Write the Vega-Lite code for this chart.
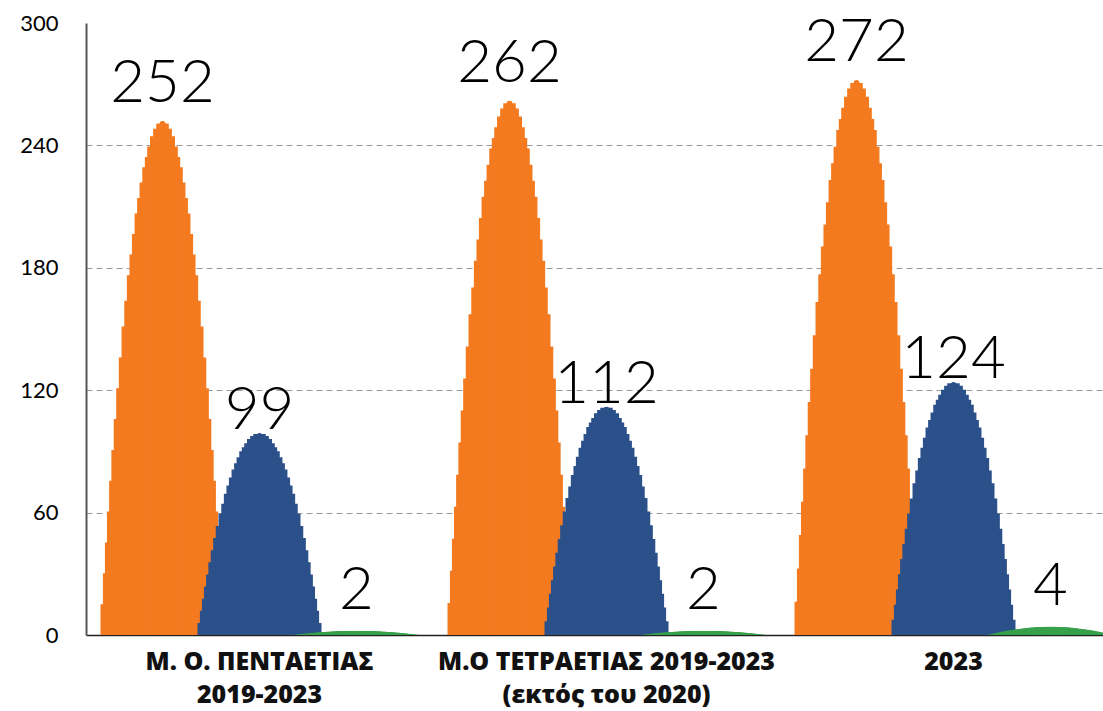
{
"$schema": "https://vega.github.io/schema/vega-lite/v6.json",
"autosize": {"type": "none"},
"width": 1017, "height": 612,
"padding": {"left": 86, "top": 23, "right": 0, "bottom": 76},
"background": "white",
"config": {"view": {"stroke": null}},
"data": {"values": [
{"group": "Μ. Ο. ΠΕΝΤΑΕΤΙΑΣ|2019-2023", "series": "s1", "value": 252},
{"group": "Μ. Ο. ΠΕΝΤΑΕΤΙΑΣ|2019-2023", "series": "s2", "value": 99},
{"group": "Μ. Ο. ΠΕΝΤΑΕΤΙΑΣ|2019-2023", "series": "s3", "value": 2},
{"group": "Μ.Ο ΤΕΤΡΑΕΤΙΑΣ 2019-2023|(εκτός του 2020)", "series": "s1", "value": 262},
{"group": "Μ.Ο ΤΕΤΡΑΕΤΙΑΣ 2019-2023|(εκτός του 2020)", "series": "s2", "value": 112},
{"group": "Μ.Ο ΤΕΤΡΑΕΤΙΑΣ 2019-2023|(εκτός του 2020)", "series": "s3", "value": 2},
{"group": "2023", "series": "s1", "value": 272},
{"group": "2023", "series": "s2", "value": 124},
{"group": "2023", "series": "s3", "value": 4}
]},
"encoding": {
"x": {"field": "group", "type": "nominal", "title": null,
 "scale": {"domain": ["Μ. Ο. ΠΕΝΤΑΕΤΙΑΣ|2019-2023", "Μ.Ο ΤΕΤΡΑΕΤΙΑΣ 2019-2023|(εκτός του 2020)", "2023"], "range": [0, 1041], "paddingInner": 0, "paddingOuter": 0},
 "axis": {"labelExpr": "split(datum.value, '|')", "labelAngle": 0, "ticks": false, "labelPadding": 14, "labelLimit": 0, "labelFont": "Open Sans", "labelFontWeight": 800, "labelFontSize": 25, "labelLineHeight": 33, "labelColor": "#111", "domainColor": "#222", "domainWidth": 1.5, "grid": false, "labelBaseline": "top"}},
"xOffset": {"field": "series", "type": "nominal", "scale": {"domain": ["s1", "s2", "s3"], "paddingInner": 0, "paddingOuter": 0.289}}
},
"resolve": {"scale": {"y": "independent"}},
"layer": [
{"transform": [{"filter": "datum.series === 's1'"}], "mark": {"type": "bar", "color": "#F47A20", "width": 124}, "encoding": {"y": {"field": "value", "type": "quantitative", "scale": {"domain": [0, 5000], "nice": false}, "axis": null}}},
{"transform": [{"filter": "datum.series === 's1'"}], "mark": {"type": "bar", "color": "#F47A20", "width": 119.2}, "encoding": {"y": {"field": "value", "type": "quantitative", "scale": {"domain": [0, 2500], "nice": false}, "axis": null}}},
{"transform": [{"filter": "datum.series === 's1'"}], "mark": {"type": "bar", "color": "#F47A20", "width": 115.2}, "encoding": {"y": {"field": "value", "type": "quantitative", "scale": {"domain": [0, 1666.667], "nice": false}, "axis": null}}},
{"transform": [{"filter": "datum.series === 's1'"}], "mark": {"type": "bar", "color": "#F47A20", "width": 111.1}, "encoding": {"y": {"field": "value", "type": "quantitative", "scale": {"domain": [0, 1250], "nice": false}, "axis": null}}},
{"transform": [{"filter": "datum.series === 's1'"}], "mark": {"type": "bar", "color": "#F47A20", "width": 106.8}, "encoding": {"y": {"field": "value", "type": "quantitative", "scale": {"domain": [0, 1000], "nice": false}, "axis": null}}},
{"transform": [{"filter": "datum.series === 's1'"}], "mark": {"type": "bar", "color": "#F47A20", "width": 102.3}, "encoding": {"y": {"field": "value", "type": "quantitative", "scale": {"domain": [0, 833.333], "nice": false}, "axis": null}}},
{"transform": [{"filter": "datum.series === 's1'"}], "mark": {"type": "bar", "color": "#F47A20", "width": 97.6}, "encoding": {"y": {"field": "value", "type": "quantitative", "scale": {"domain": [0, 714.286], "nice": false}, "axis": null}}},
{"transform": [{"filter": "datum.series === 's1'"}], "mark": {"type": "bar", "color": "#F47A20", "width": 92.7}, "encoding": {"y": {"field": "value", "type": "quantitative", "scale": {"domain": [0, 625], "nice": false}, "axis": null}}},
{"transform": [{"filter": "datum.series === 's1'"}], "mark": {"type": "bar", "color": "#F47A20", "width": 87.5}, "encoding": {"y": {"field": "value", "type": "quantitative", "scale": {"domain": [0, 555.556], "nice": false}, "axis": null}}},
{"transform": [{"filter": "datum.series === 's1'"}], "mark": {"type": "bar", "color": "#F47A20", "width": 82}, "encoding": {"y": {"field": "value", "type": "quantitative", "scale": {"domain": [0, 500], "nice": false}, "axis": null}}},
{"transform": [{"filter": "datum.series === 's1'"}], "mark": {"type": "bar", "color": "#F47A20", "width": 76.5}, "encoding": {"y": {"field": "value", "type": "quantitative", "scale": {"domain": [0, 461.538], "nice": false}, "axis": null}}},
{"transform": [{"filter": "datum.series === 's1'"}], "mark": {"type": "bar", "color": "#F47A20", "width": 71.3}, "encoding": {"y": {"field": "value", "type": "quantitative", "scale": {"domain": [0, 428.571], "nice": false}, "axis": null}}},
{"transform": [{"filter": "datum.series === 's1'"}], "mark": {"type": "bar", "color": "#F47A20", "width": 66.1}, "encoding": {"y": {"field": "value", "type": "quantitative", "scale": {"domain": [0, 405.405], "nice": false}, "axis": null}}},
{"transform": [{"filter": "datum.series === 's1'"}], "mark": {"type": "bar", "color": "#F47A20", "width": 61.2}, "encoding": {"y": {"field": "value", "type": "quantitative", "scale": {"domain": [0, 384.615], "nice": false}, "axis": null}}},
{"transform": [{"filter": "datum.series === 's1'"}], "mark": {"type": "bar", "color": "#F47A20", "width": 55.9}, "encoding": {"y": {"field": "value", "type": "quantitative", "scale": {"domain": [0, 365.854], "nice": false}, "axis": null}}},
{"transform": [{"filter": "datum.series === 's1'"}], "mark": {"type": "bar", "color": "#F47A20", "width": 50.8}, "encoding": {"y": {"field": "value", "type": "quantitative", "scale": {"domain": [0, 352.941], "nice": false}, "axis": null}}},
{"transform": [{"filter": "datum.series === 's1'"}], "mark": {"type": "bar", "color": "#F47A20", "width": 45.9}, "encoding": {"y": {"field": "value", "type": "quantitative", "scale": {"domain": [0, 340.909], "nice": false}, "axis": null}}},
{"transform": [{"filter": "datum.series === 's1'"}], "mark": {"type": "bar", "color": "#F47A20", "width": 40.5}, "encoding": {"y": {"field": "value", "type": "quantitative", "scale": {"domain": [0, 329.67], "nice": false}, "axis": null}}},
{"transform": [{"filter": "datum.series === 's1'"}], "mark": {"type": "bar", "color": "#F47A20", "width": 35.4}, "encoding": {"y": {"field": "value", "type": "quantitative", "scale": {"domain": [0, 322.581], "nice": false}, "axis": null}}},
{"transform": [{"filter": "datum.series === 's1'"}], "mark": {"type": "bar", "color": "#F47A20", "width": 30.6}, "encoding": {"y": {"field": "value", "type": "quantitative", "scale": {"domain": [0, 315.789], "nice": false}, "axis": null}}},
{"transform": [{"filter": "datum.series === 's1'"}], "mark": {"type": "bar", "color": "#F47A20", "width": 25}, "encoding": {"y": {"field": "value", "type": "quantitative", "scale": {"domain": [0, 309.278], "nice": false}, "axis": null}}},
{"transform": [{"filter": "datum.series === 's1'"}], "mark": {"type": "bar", "color": "#F47A20", "width": 18.75}, "encoding": {"y": {"field": "value", "type": "quantitative", "scale": {"domain": [0, 304.569], "nice": false}, "axis": null}}},
{"transform": [{"filter": "datum.series === 's1'"}], "mark": {"type": "bar", "color": "#F47A20", "width": 12.5}, "encoding": {"y": {"field": "value", "type": "quantitative", "scale": {"domain": [0, 301.508], "nice": false}, "axis": null}}},
{"transform": [{"filter": "datum.series === 's1'"}], "mark": {"type": "bar", "color": "#F47A20", "width": 6.25, "cornerRadiusTopLeft": 3, "cornerRadiusTopRight": 3}, "encoding": {"y": {"field": "value", "type": "quantitative", "scale": {"domain": [0, 300], "nice": false}, "axis": null}}},

{"transform": [{"filter": "datum.series === 's2'"}], "mark": {"type": "bar", "color": "#2B508A", "width": 124}, "encoding": {"y": {"field": "value", "type": "quantitative", "scale": {"domain": [0, 5000], "nice": false}, "axis": null}}},
{"transform": [{"filter": "datum.series === 's2'"}], "mark": {"type": "bar", "color": "#2B508A", "width": 119.2}, "encoding": {"y": {"field": "value", "type": "quantitative", "scale": {"domain": [0, 2500], "nice": false}, "axis": null}}},
{"transform": [{"filter": "datum.series === 's2'"}], "mark": {"type": "bar", "color": "#2B508A", "width": 115.2}, "encoding": {"y": {"field": "value", "type": "quantitative", "scale": {"domain": [0, 1666.667], "nice": false}, "axis": null}}},
{"transform": [{"filter": "datum.series === 's2'"}], "mark": {"type": "bar", "color": "#2B508A", "width": 111.1}, "encoding": {"y": {"field": "value", "type": "quantitative", "scale": {"domain": [0, 1250], "nice": false}, "axis": null}}},
{"transform": [{"filter": "datum.series === 's2'"}], "mark": {"type": "bar", "color": "#2B508A", "width": 106.8}, "encoding": {"y": {"field": "value", "type": "quantitative", "scale": {"domain": [0, 1000], "nice": false}, "axis": null}}},
{"transform": [{"filter": "datum.series === 's2'"}], "mark": {"type": "bar", "color": "#2B508A", "width": 102.3}, "encoding": {"y": {"field": "value", "type": "quantitative", "scale": {"domain": [0, 833.333], "nice": false}, "axis": null}}},
{"transform": [{"filter": "datum.series === 's2'"}], "mark": {"type": "bar", "color": "#2B508A", "width": 97.6}, "encoding": {"y": {"field": "value", "type": "quantitative", "scale": {"domain": [0, 714.286], "nice": false}, "axis": null}}},
{"transform": [{"filter": "datum.series === 's2'"}], "mark": {"type": "bar", "color": "#2B508A", "width": 92.7}, "encoding": {"y": {"field": "value", "type": "quantitative", "scale": {"domain": [0, 625], "nice": false}, "axis": null}}},
{"transform": [{"filter": "datum.series === 's2'"}], "mark": {"type": "bar", "color": "#2B508A", "width": 87.5}, "encoding": {"y": {"field": "value", "type": "quantitative", "scale": {"domain": [0, 555.556], "nice": false}, "axis": null}}},
{"transform": [{"filter": "datum.series === 's2'"}], "mark": {"type": "bar", "color": "#2B508A", "width": 82}, "encoding": {"y": {"field": "value", "type": "quantitative", "scale": {"domain": [0, 500], "nice": false}, "axis": null}}},
{"transform": [{"filter": "datum.series === 's2'"}], "mark": {"type": "bar", "color": "#2B508A", "width": 76.5}, "encoding": {"y": {"field": "value", "type": "quantitative", "scale": {"domain": [0, 461.538], "nice": false}, "axis": null}}},
{"transform": [{"filter": "datum.series === 's2'"}], "mark": {"type": "bar", "color": "#2B508A", "width": 71.3}, "encoding": {"y": {"field": "value", "type": "quantitative", "scale": {"domain": [0, 428.571], "nice": false}, "axis": null}}},
{"transform": [{"filter": "datum.series === 's2'"}], "mark": {"type": "bar", "color": "#2B508A", "width": 66.1}, "encoding": {"y": {"field": "value", "type": "quantitative", "scale": {"domain": [0, 405.405], "nice": false}, "axis": null}}},
{"transform": [{"filter": "datum.series === 's2'"}], "mark": {"type": "bar", "color": "#2B508A", "width": 61.2}, "encoding": {"y": {"field": "value", "type": "quantitative", "scale": {"domain": [0, 384.615], "nice": false}, "axis": null}}},
{"transform": [{"filter": "datum.series === 's2'"}], "mark": {"type": "bar", "color": "#2B508A", "width": 55.9}, "encoding": {"y": {"field": "value", "type": "quantitative", "scale": {"domain": [0, 365.854], "nice": false}, "axis": null}}},
{"transform": [{"filter": "datum.series === 's2'"}], "mark": {"type": "bar", "color": "#2B508A", "width": 50.8}, "encoding": {"y": {"field": "value", "type": "quantitative", "scale": {"domain": [0, 352.941], "nice": false}, "axis": null}}},
{"transform": [{"filter": "datum.series === 's2'"}], "mark": {"type": "bar", "color": "#2B508A", "width": 45.9}, "encoding": {"y": {"field": "value", "type": "quantitative", "scale": {"domain": [0, 340.909], "nice": false}, "axis": null}}},
{"transform": [{"filter": "datum.series === 's2'"}], "mark": {"type": "bar", "color": "#2B508A", "width": 40.5}, "encoding": {"y": {"field": "value", "type": "quantitative", "scale": {"domain": [0, 329.67], "nice": false}, "axis": null}}},
{"transform": [{"filter": "datum.series === 's2'"}], "mark": {"type": "bar", "color": "#2B508A", "width": 35.4}, "encoding": {"y": {"field": "value", "type": "quantitative", "scale": {"domain": [0, 322.581], "nice": false}, "axis": null}}},
{"transform": [{"filter": "datum.series === 's2'"}], "mark": {"type": "bar", "color": "#2B508A", "width": 30.6}, "encoding": {"y": {"field": "value", "type": "quantitative", "scale": {"domain": [0, 315.789], "nice": false}, "axis": null}}},
{"transform": [{"filter": "datum.series === 's2'"}], "mark": {"type": "bar", "color": "#2B508A", "width": 25}, "encoding": {"y": {"field": "value", "type": "quantitative", "scale": {"domain": [0, 309.278], "nice": false}, "axis": null}}},
{"transform": [{"filter": "datum.series === 's2'"}], "mark": {"type": "bar", "color": "#2B508A", "width": 18.75}, "encoding": {"y": {"field": "value", "type": "quantitative", "scale": {"domain": [0, 304.569], "nice": false}, "axis": null}}},
{"transform": [{"filter": "datum.series === 's2'"}], "mark": {"type": "bar", "color": "#2B508A", "width": 12.5}, "encoding": {"y": {"field": "value", "type": "quantitative", "scale": {"domain": [0, 301.508], "nice": false}, "axis": null}}},
{"transform": [{"filter": "datum.series === 's2'"}], "mark": {"type": "bar", "color": "#2B508A", "width": 6.25, "cornerRadiusTopLeft": 3, "cornerRadiusTopRight": 3}, "encoding": {"y": {"field": "value", "type": "quantitative", "scale": {"domain": [0, 300], "nice": false}, "axis": null}}},

{"transform": [{"filter": "datum.series === 's3'"}], "mark": {"type": "bar", "color": "#36A04A", "width": 124}, "encoding": {"y": {"field": "value", "type": "quantitative", "scale": {"domain": [0, 5000], "nice": false}, "axis": null}}},
{"transform": [{"filter": "datum.series === 's3'"}], "mark": {"type": "bar", "color": "#36A04A", "width": 119.2}, "encoding": {"y": {"field": "value", "type": "quantitative", "scale": {"domain": [0, 2500], "nice": false}, "axis": null}}},
{"transform": [{"filter": "datum.series === 's3'"}], "mark": {"type": "bar", "color": "#36A04A", "width": 115.2}, "encoding": {"y": {"field": "value", "type": "quantitative", "scale": {"domain": [0, 1666.667], "nice": false}, "axis": null}}},
{"transform": [{"filter": "datum.series === 's3'"}], "mark": {"type": "bar", "color": "#36A04A", "width": 111.1}, "encoding": {"y": {"field": "value", "type": "quantitative", "scale": {"domain": [0, 1250], "nice": false}, "axis": null}}},
{"transform": [{"filter": "datum.series === 's3'"}], "mark": {"type": "bar", "color": "#36A04A", "width": 106.8}, "encoding": {"y": {"field": "value", "type": "quantitative", "scale": {"domain": [0, 1000], "nice": false}, "axis": null}}},
{"transform": [{"filter": "datum.series === 's3'"}], "mark": {"type": "bar", "color": "#36A04A", "width": 102.3}, "encoding": {"y": {"field": "value", "type": "quantitative", "scale": {"domain": [0, 833.333], "nice": false}, "axis": null}}},
{"transform": [{"filter": "datum.series === 's3'"}], "mark": {"type": "bar", "color": "#36A04A", "width": 97.6}, "encoding": {"y": {"field": "value", "type": "quantitative", "scale": {"domain": [0, 714.286], "nice": false}, "axis": null}}},
{"transform": [{"filter": "datum.series === 's3'"}], "mark": {"type": "bar", "color": "#36A04A", "width": 92.7}, "encoding": {"y": {"field": "value", "type": "quantitative", "scale": {"domain": [0, 625], "nice": false}, "axis": null}}},
{"transform": [{"filter": "datum.series === 's3'"}], "mark": {"type": "bar", "color": "#36A04A", "width": 87.5}, "encoding": {"y": {"field": "value", "type": "quantitative", "scale": {"domain": [0, 555.556], "nice": false}, "axis": null}}},
{"transform": [{"filter": "datum.series === 's3'"}], "mark": {"type": "bar", "color": "#36A04A", "width": 82}, "encoding": {"y": {"field": "value", "type": "quantitative", "scale": {"domain": [0, 500], "nice": false}, "axis": null}}},
{"transform": [{"filter": "datum.series === 's3'"}], "mark": {"type": "bar", "color": "#36A04A", "width": 76.5}, "encoding": {"y": {"field": "value", "type": "quantitative", "scale": {"domain": [0, 461.538], "nice": false}, "axis": null}}},
{"transform": [{"filter": "datum.series === 's3'"}], "mark": {"type": "bar", "color": "#36A04A", "width": 71.3}, "encoding": {"y": {"field": "value", "type": "quantitative", "scale": {"domain": [0, 428.571], "nice": false}, "axis": null}}},
{"transform": [{"filter": "datum.series === 's3'"}], "mark": {"type": "bar", "color": "#36A04A", "width": 66.1}, "encoding": {"y": {"field": "value", "type": "quantitative", "scale": {"domain": [0, 405.405], "nice": false}, "axis": null}}},
{"transform": [{"filter": "datum.series === 's3'"}], "mark": {"type": "bar", "color": "#36A04A", "width": 61.2}, "encoding": {"y": {"field": "value", "type": "quantitative", "scale": {"domain": [0, 384.615], "nice": false}, "axis": null}}},
{"transform": [{"filter": "datum.series === 's3'"}], "mark": {"type": "bar", "color": "#36A04A", "width": 55.9}, "encoding": {"y": {"field": "value", "type": "quantitative", "scale": {"domain": [0, 365.854], "nice": false}, "axis": null}}},
{"transform": [{"filter": "datum.series === 's3'"}], "mark": {"type": "bar", "color": "#36A04A", "width": 50.8}, "encoding": {"y": {"field": "value", "type": "quantitative", "scale": {"domain": [0, 352.941], "nice": false}, "axis": null}}},
{"transform": [{"filter": "datum.series === 's3'"}], "mark": {"type": "bar", "color": "#36A04A", "width": 45.9}, "encoding": {"y": {"field": "value", "type": "quantitative", "scale": {"domain": [0, 340.909], "nice": false}, "axis": null}}},
{"transform": [{"filter": "datum.series === 's3'"}], "mark": {"type": "bar", "color": "#36A04A", "width": 40.5}, "encoding": {"y": {"field": "value", "type": "quantitative", "scale": {"domain": [0, 329.67], "nice": false}, "axis": null}}},
{"transform": [{"filter": "datum.series === 's3'"}], "mark": {"type": "bar", "color": "#36A04A", "width": 35.4}, "encoding": {"y": {"field": "value", "type": "quantitative", "scale": {"domain": [0, 322.581], "nice": false}, "axis": null}}},
{"transform": [{"filter": "datum.series === 's3'"}], "mark": {"type": "bar", "color": "#36A04A", "width": 30.6}, "encoding": {"y": {"field": "value", "type": "quantitative", "scale": {"domain": [0, 315.789], "nice": false}, "axis": null}}},
{"transform": [{"filter": "datum.series === 's3'"}], "mark": {"type": "bar", "color": "#36A04A", "width": 25}, "encoding": {"y": {"field": "value", "type": "quantitative", "scale": {"domain": [0, 309.278], "nice": false}, "axis": null}}},
{"transform": [{"filter": "datum.series === 's3'"}], "mark": {"type": "bar", "color": "#36A04A", "width": 18.75}, "encoding": {"y": {"field": "value", "type": "quantitative", "scale": {"domain": [0, 304.569], "nice": false}, "axis": null}}},
{"transform": [{"filter": "datum.series === 's3'"}], "mark": {"type": "bar", "color": "#36A04A", "width": 12.5}, "encoding": {"y": {"field": "value", "type": "quantitative", "scale": {"domain": [0, 301.508], "nice": false}, "axis": null}}},
{"transform": [{"filter": "datum.series === 's3'"}], "mark": {"type": "bar", "color": "#36A04A", "width": 6.25, "cornerRadiusTopLeft": 3, "cornerRadiusTopRight": 3}, "encoding": {"y": {"field": "value", "type": "quantitative", "scale": {"domain": [0, 300], "nice": false}, "axis": null}}},

{"transform": [{"filter": "datum.series === 's1'"}], "mark": {"type": "text", "font": "Lato", "fontWeight": 300, "fontSize": 60, "color": "#000", "baseline": "alphabetic", "dy": -19}, "encoding": {"text": {"field": "value", "type": "quantitative"}, "y": {"field": "value", "type": "quantitative", "scale": {"domain": [0, 300], "nice": false},
 "axis": {"orient": "left", "values": [0, 60, 120, 180, 240, 300], "title": null, "ticks": false, "labelPadding": 28, "labelFont": "Lato", "labelFontWeight": 400, "labelFontSize": 22, "labelColor": "#000", "domainColor": "#555", "domainWidth": 2, "grid": true, "gridColor": "#999", "gridDash": [6, 4], "gridWidth": 1, "gridOpacity": {"condition": {"test": "datum.value === 300 || datum.value === 0", "value": 0}, "value": 1}}}}},
{"transform": [{"filter": "datum.series === 's2'"}], "mark": {"type": "text", "font": "Lato", "fontWeight": 300, "fontSize": 60, "color": "#000", "baseline": "alphabetic", "dy": -4}, "encoding": {"text": {"field": "value", "type": "quantitative"}, "y": {"field": "value", "type": "quantitative", "scale": {"domain": [0, 300], "nice": false}, "axis": null}}},
{"transform": [{"filter": "datum.series === 's3'"}], "mark": {"type": "text", "font": "Lato", "fontWeight": 300, "fontSize": 60, "color": "#000", "baseline": "alphabetic", "dy": -22}, "encoding": {"text": {"field": "value", "type": "quantitative"}, "y": {"field": "value", "type": "quantitative", "scale": {"domain": [0, 300], "nice": false}, "axis": null}}}
]
}
